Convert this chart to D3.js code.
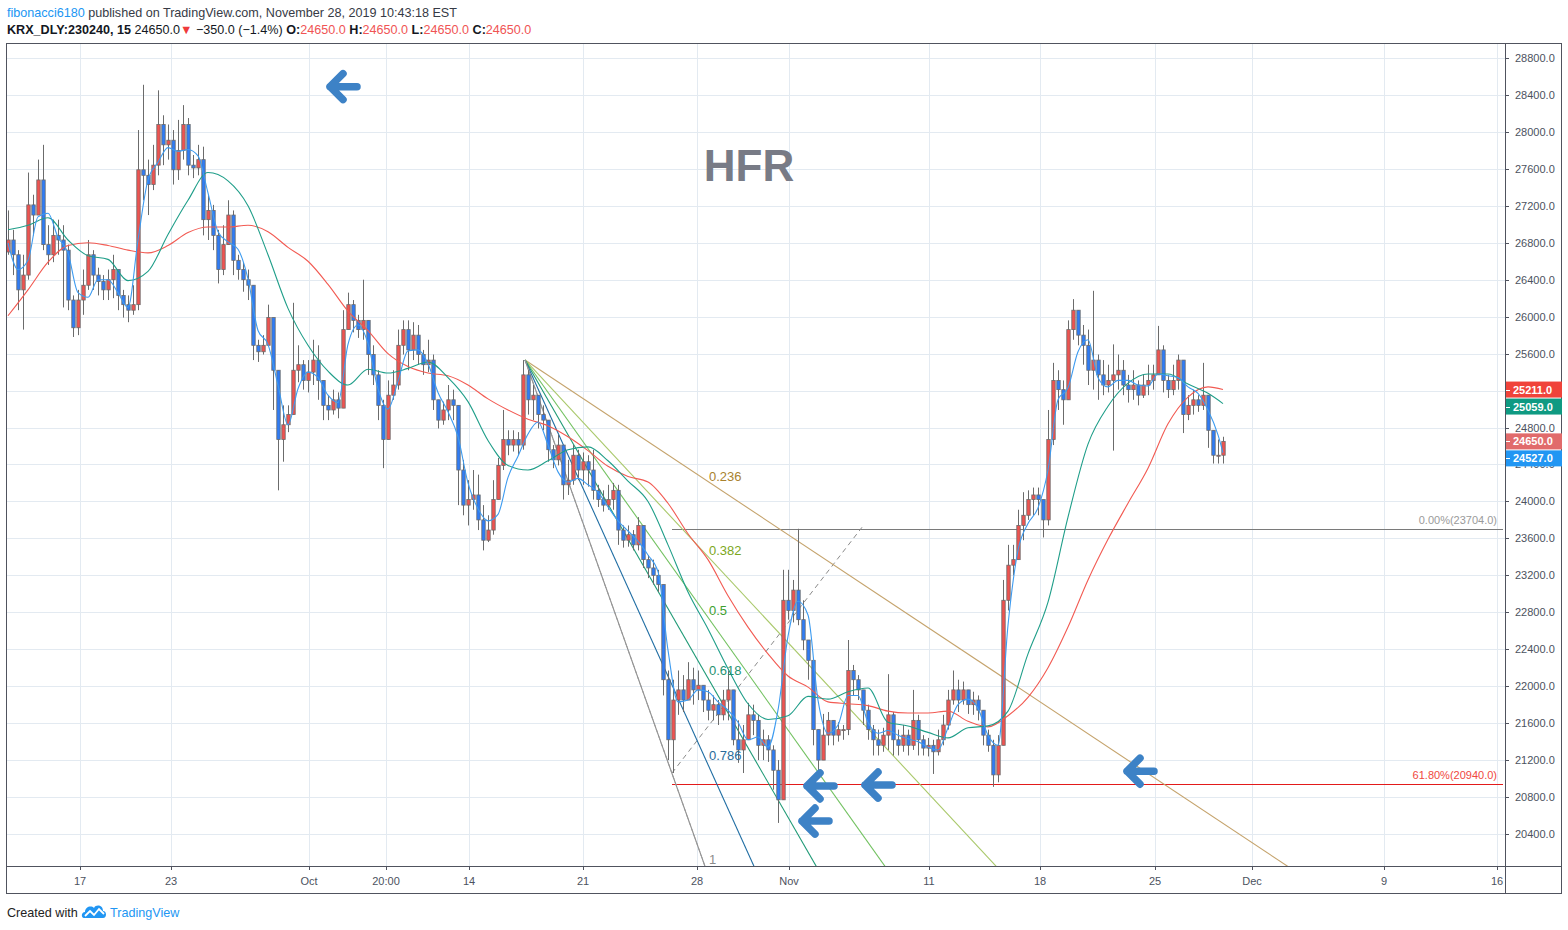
<!DOCTYPE html>
<html><head><meta charset="utf-8">
<script src="https://cdn.jsdelivr.net/npm/d3@7"></script>
<style>body{margin:0;background:#fff;} svg{display:block;font-family:"Liberation Sans",Arial,sans-serif;}</style>
</head><body><svg id="c" width="1568" height="930"></svg>
<script>
// ---------------- DATA ----------------
const firstOpen = 26700;
const closes = [
26830,26670,26290,26450,27210,27100,27480,26780,26670,26880,
26830,26720,26180,25880,26180,26340,26670,26450,26380,26290,
26400,26510,26230,26130,26070,26130,27590,27530,27430,27640,
28080,27860,27910,27590,27800,28080,27640,27610,27700,27050,
27150,26880,26510,26780,27100,26610,26510,26400,26340,25690,
25620,25690,25990,25420,24670,24830,24940,25420,25480,25310,
25400,25530,25310,25040,24990,25100,25010,25860,26130,25960,
25860,25960,25590,25370,25040,24670,25150,25260,25690,25860,
25640,25800,25590,25480,25530,25100,24880,24990,25100,25040,
24340,23960,24020,24070,23800,23580,23690,24020,24390,24670,
24610,24670,24610,25370,25100,25150,24940,24880,24560,24450,
24610,24180,24230,24500,24340,24430,24340,24120,24020,23960,
24020,24120,23690,23580,23640,23530,23740,23370,23280,23200,
23100,22070,21420,21850,21960,21850,22070,21960,22010,21850,
21740,21800,21690,21850,21960,21420,21310,21420,21690,21630,
21360,21420,21310,21090,20770,22930,22820,23040,22720,22500,
22280,21530,21200,21470,21630,21470,21530,21530,22170,22070,
21960,21740,21530,21420,21360,21470,21690,21420,21360,21470,
21360,21630,21420,21330,21360,21290,21420,21580,21850,21960,
21850,21960,21800,21850,21740,21470,21360,21040,21360,22930,
23310,23370,23740,23850,24020,24070,24020,23800,24670,25310,
25210,25100,25860,26070,25800,25690,25420,25530,25370,25260,
25310,25370,25420,25260,25210,25260,25150,25260,25310,25370,
25640,25310,25210,25310,25530,24940,25040,25100,25040,25150,
24770,24500,24500,24650];
const highs = [
27150,26940,26720,26670,27560,27320,27700,27860,26990,27050,
27050,26990,26780,26230,26290,26510,26830,26720,26530,26450,
26510,26670,26510,26290,26230,26340,28020,28510,27700,27860,
28450,28180,28080,28020,28130,28290,28150,27750,27860,27840,
27320,27210,26940,26990,27260,27150,26670,26590,26510,25960,
25750,25800,26130,25960,25150,25040,25040,26150,25690,25530,
25530,25750,25690,25310,25150,25210,25180,26070,26260,26180,
26020,26400,25960,25690,25420,25100,25310,25420,25860,25960,
25960,25940,25910,25640,25750,25590,25100,25080,25260,25210,
25040,24450,24230,24340,24290,23960,23850,24230,24470,24990,
24770,24770,24750,25530,25420,25260,25150,25040,24880,24610,
24720,24580,24450,24610,24560,24530,24500,24560,24180,24120,
24180,24200,24180,23740,23740,23690,23830,23690,23420,23370,
23260,23040,22170,22070,22170,22120,22260,22200,22170,22010,
21960,21900,21850,21960,22170,21900,21630,21580,21820,21800,
21690,21530,21470,21360,21200,23260,23260,23150,23704,22930,
22500,22100,21530,21700,21720,21630,21610,21580,22500,22230,
22120,21960,21800,21580,21530,21550,22130,21720,21530,21580,
21530,21960,21690,21470,21440,21420,21530,21690,21960,22170,
22070,22050,21960,21940,21900,21740,21530,21420,21470,23150,
23530,23530,23910,24100,24120,24150,24150,24020,24990,25500,
25420,25310,25960,26190,26020,25910,25860,26280,25590,25530,
25480,25700,25590,25530,25370,25420,25310,25370,25480,25480,
25900,25690,25370,25480,25590,25420,25150,25210,25150,25500,
25150,24770,24670,24700];
const lows = [
26670,26450,26070,25860,26400,26880,27100,26720,26560,26590,
26670,26100,26070,25780,25800,26020,26290,26290,26230,26180,
26180,26200,26070,25990,25940,26020,26070,27260,27100,27370,
27530,27640,27700,27430,27480,27700,27530,27500,27530,26880,
26830,26720,26360,26450,26830,26450,26400,26270,26180,25530,
25510,25590,25690,24990,24120,24430,24750,25040,25290,25210,
25180,25260,25100,24880,24880,24940,24900,25040,25860,25830,
25770,25750,25370,25260,24880,24360,24670,25100,25210,25590,
25420,25530,25480,25370,25400,24990,24790,24830,24880,24880,
23960,23850,23740,23910,23690,23470,23560,23640,24020,24340,
24500,24540,24500,24560,24940,24880,24790,24770,24430,24360,
24390,24020,24070,24180,24230,24180,24160,24020,23940,23890,
23910,23910,23530,23500,23510,23470,23470,23280,23170,23100,
23020,21900,21200,21060,21690,21720,21850,21800,21850,21720,
21630,21630,21580,21630,21630,21360,21170,21060,21420,21470,
21200,21200,21180,20880,20520,20770,22720,22690,22660,22390,
22070,21360,21020,21200,21360,21360,21400,21420,21470,21900,
21850,21580,21420,21250,21250,21290,21310,21250,21250,21290,
21250,21310,21250,21250,21240,21050,21250,21360,21530,21800,
21720,21800,21700,21690,21630,21360,21290,20910,20960,21850,
22820,23200,23370,23580,23800,23850,23850,23610,23740,24610,
24990,24830,25100,25750,25690,25480,25260,25210,25100,25150,
25180,24550,25210,25150,25070,25100,25040,25120,25150,25210,
25370,25180,25120,25150,25210,24740,24880,24940,24970,24990,
24580,24410,24410,24410];

// moving averages (read every 2 bars for the fast one, every 4 bars for the others; last value = last bar)
const maFastStep = 2;
const maFast = [
26800,26510,26610,27080,27120,26860,26690,26260,26210,26400,
26400,26260,26100,26830,27480,27670,27830,27790,27810,27740,
27340,26920,26810,26730,26410,25850,25700,25260,24830,25220,
25400,25340,25150,25070,25700,25910,25710,25220,25000,25300,
25630,25640,25490,25180,24970,24700,24200,23920,23790,23860,
24260,24490,24730,24860,24610,24320,24210,24250,24180,24100,
23940,23790,23680,23570,23420,23240,22390,21830,21850,21960,
21940,21830,21740,21610,21420,21450,21340,21740,22540,22920,
22770,21850,21490,21580,21900,21900,21610,21490,21520,21470,
21430,21400,21340,21310,21550,21800,21860,21760,21470,21360,
22660,23470,23760,23930,24340,25100,25230,25620,25750,25340,
25240,25310,25310,25260,25250,25380,25360,25340,25240,25170,
24990,24720,24527];
const maSlowStep = 4;
const maMid = [
26940,26990,27070,26830,26660,26620,26390,26490,26890,27260,
27560,27470,27200,26670,26090,25690,25410,25260,25430,25390,
25440,25510,25340,25080,24660,24390,24340,24440,24560,24590,
24440,24220,24000,23530,23020,22620,22190,21810,21640,21680,
21890,21860,21940,21980,21610,21570,21500,21440,21550,21570,
21730,22350,22910,23830,24620,25030,25280,25380,25380,25270,
25170,25059];
const maSlow = [
26010,26290,26590,26770,26800,26770,26720,26690,26770,26910,
26970,26970,26990,26920,26750,26600,26350,26060,25850,25600,
25460,25390,25360,25260,25110,24990,24890,24820,24700,24550,
24380,24270,24210,23980,23650,23370,22980,22640,22350,22110,
21990,21830,21810,21790,21730,21710,21710,21730,21620,21560,
21680,21880,22200,22640,23150,23590,23980,24360,24840,25130,
25240,25211];

const priceTicks = [20400,20800,21200,21600,22000,22400,22800,23200,23600,24000,24400,24800,25200,25600,26000,26400,26800,27200,27600,28000,28400,28800];
const timeTickLabels = ["17","23","Oct","20:00","14","21","28","Nov","11","18","25","Dec","9","16"];
const timeTickBars   = [14.4,32.6,60.2,75.6,92.2,115,137.8,156.2,184.2,206.4,229.4,248.8,275.2,297.8];

// Fibonacci fan (anchor bar/price) and levels
const fanStart = {bar:103.4, price:25531};
const fanEnd   = {bar:139.4, price:20050};
const fanLevels = [0.236,0.382,0.5,0.618,0.786,1];
const fanLineColors = ["#c5a36c","#a9c86a","#72c160","#1f9a76","#1f6da3","#8c8c8c"];
const fanTextColors = ["#a9822e","#7ca71c","#3e9f2f","#1f9270","#2a6b9a","#8c8c8c"];

// Fibonacci retracement
const retrStartBar = 132.8, retrEndBar = 299;
const retrLevels = [23704, 20940];
const retrLabels = ["0.00%(23704.0)", "61.80%(20940.0)"];
const retrColors = ["#7a7a7a", "#e31a1a"];
const retrTextColors = ["#9a9a9a", "#f0483e"];
const retrTrend = [{bar:132.8, price:21060},{bar:170.8, price:23720}];

// arrows (bar, price of arrow tip)
const arrowBars   = [64.2, 159.6, 171.2, 158.6, 223.6];
const arrowPrices = [28490, 20920, 20930, 20540, 21080];

// last values
const lastLabels = [
  {v:25211, c:"#f0433a"},
  {v:25059, c:"#0f9a82"},
  {v:24650, c:"#e16b6b"},
  {v:24527, c:"#2196f3"}
];

// ---------------- DRAW ----------------
const svg = d3.select("#c");
const PL=7, PR=1505, PT=44, PB=866;
const x = d3.scaleLinear().domain([0,299.4]).range([8,1505]);
const y = d3.scaleLinear().domain([20400,28800]).range([834,58]);

svg.append("rect").attr("width",1568).attr("height",930).attr("fill","#fff");

svg.append("defs").append("clipPath").attr("id","plotclip")
  .append("rect").attr("x",PL).attr("y",PT).attr("width",PR-PL).attr("height",PB-PT);

// grid
const grid = svg.append("g");
grid.selectAll(".hg").data(priceTicks).join("line")
  .attr("x1",PL).attr("x2",PR).attr("y1",d=>Math.round(y(d))+0.5).attr("y2",d=>Math.round(y(d))+0.5)
  .attr("stroke","#e3eaf1").attr("stroke-width",1);
grid.selectAll(".vg").data(timeTickBars).join("line")
  .attr("y1",PT).attr("y2",PB).attr("x1",d=>Math.round(x(d))+0.5).attr("x2",d=>Math.round(x(d))+0.5)
  .attr("stroke","#e3eaf1").attr("stroke-width",1);

const plot = svg.append("g").attr("clip-path","url(#plotclip)");

// retracement lines
retrLevels.forEach((lv,k)=>{
  plot.append("line").attr("x1",x(retrStartBar)).attr("x2",x(retrEndBar))
    .attr("y1",Math.round(y(lv))+0.5).attr("y2",Math.round(y(lv))+0.5)
    .attr("stroke",retrColors[k]).attr("stroke-width",1);
  plot.append("text").attr("x",1497).attr("y",y(lv)-5).attr("text-anchor","end")
    .attr("font-size",11).attr("fill",retrTextColors[k]).text(retrLabels[k]);
});
plot.append("line").attr("x1",x(retrTrend[0].bar)).attr("y1",y(retrTrend[0].price))
  .attr("x2",x(retrTrend[1].bar)).attr("y2",y(retrTrend[1].price))
  .attr("stroke","#8a8a8a").attr("stroke-width",1).attr("stroke-dasharray","5,4");

// fan
const fanRange = fanStart.price - fanEnd.price;
fanLevels.forEach((lv,k)=>{
  const pEnd = fanStart.price - lv*fanRange;
  const slope = (pEnd - fanStart.price)/(fanEnd.bar - fanStart.bar);
  const farBar = 420;
  const farP = fanStart.price + slope*(farBar - fanStart.bar);
  plot.append("line").attr("x1",x(fanStart.bar)).attr("y1",y(fanStart.price))
    .attr("x2",x(farBar)).attr("y2",y(farP))
    .attr("stroke",fanLineColors[k]).attr("stroke-width",1.1);
});
plot.append("line").attr("x1",x(fanStart.bar)).attr("y1",y(fanStart.price))
  .attr("x2",x(fanEnd.bar)).attr("y2",y(fanEnd.price))
  .attr("stroke","#9a9a9a").attr("stroke-width",1).attr("stroke-dasharray","4,3");

// candles
const candles = closes.map((c,i)=>{
  const o = i===0 ? firstOpen : closes[i-1];
  return {i, o, c, h:Math.max(highs[i],o,c), l:Math.min(lows[i],o,c)};
});
const cg = plot.append("g");
cg.selectAll(".w").data(candles).join("line")
  .attr("x1",d=>Math.round(x(d.i))+0.5).attr("x2",d=>Math.round(x(d.i))+0.5)
  .attr("y1",d=>y(d.h)).attr("y2",d=>y(d.l))
  .attr("stroke","#6b6b6b").attr("stroke-width",1);
cg.selectAll(".b").data(candles).join("rect")
  .attr("x",d=>Math.round(x(d.i))-1.2).attr("width",3.4)
  .attr("y",d=>y(Math.max(d.o,d.c)))
  .attr("height",d=>Math.max(1,Math.abs(y(d.o)-y(d.c))))
  .attr("fill",d=>d.c>=d.o?"#ef5350":"#2f7cf6")
  .attr("stroke","#6b6b6b").attr("stroke-width",0.8);

// moving averages
const lastBar = closes.length-1;
function maPts(arr, step){ return arr.map((v,k)=>({b:Math.min(k*step,lastBar), v})); }
const lineGen = d3.line().x(d=>x(d.b)).y(d=>y(d.v)).curve(d3.curveMonotoneX);
plot.append("path").datum(maPts(maSlow,maSlowStep)).attr("d",lineGen).attr("fill","none").attr("stroke","#f25a52").attr("stroke-width",1.1);
plot.append("path").datum(maPts(maMid,maSlowStep)).attr("d",lineGen).attr("fill","none").attr("stroke","#1f9e89").attr("stroke-width",1.1);
plot.append("path").datum(maPts(maFast,maFastStep)).attr("d",lineGen).attr("fill","none").attr("stroke","#3d9bf0").attr("stroke-width",1.1);

// fan labels
fanLevels.forEach((lv,k)=>{
  const pEnd = fanStart.price - lv*fanRange;
  let ty = y(pEnd) - 2;
  ty = Math.min(ty, PB-6);
  plot.append("text").attr("x",x(fanEnd.bar)+4).attr("y",ty+4)
    .attr("font-size",13).attr("fill",fanTextColors[k]).text(String(lv));
});

// HFR
plot.append("text").attr("x",749).attr("y",181).attr("text-anchor","middle")
  .attr("font-size",44).attr("font-weight","bold").attr("fill","#787b86").text("HFR");

// arrows
arrowBars.forEach((b,k)=>{
  const tx = x(b), ty = y(arrowPrices[k]);
  svg.append("path").attr("transform",`translate(${tx},${ty})`)
    .attr("d","M14,-13 L1,0 L14,13 M1,0 L28,0")
    .attr("fill","none").attr("stroke","#3d82c6").attr("stroke-width",7.5)
    .attr("stroke-linecap","round").attr("stroke-linejoin","round");
});

// frame & axes
const fr = svg.append("g").attr("stroke","#50535e").attr("stroke-width",1).attr("fill","none");
fr.append("rect").attr("x",6.5).attr("y",43.5).attr("width",1555).attr("height",850);
fr.append("line").attr("x1",PR+0.5).attr("x2",PR+0.5).attr("y1",43.5).attr("y2",893.5);
fr.append("line").attr("x1",6.5).attr("x2",1561.5).attr("y1",PB+0.5).attr("y2",PB+0.5);

// price axis
const pa = svg.append("g");
pa.selectAll("line").data(priceTicks).join("line")
  .attr("x1",PR).attr("x2",PR+4).attr("y1",d=>Math.round(y(d))+0.5).attr("y2",d=>Math.round(y(d))+0.5)
  .attr("stroke","#50535e");
pa.selectAll("text").data(priceTicks).join("text")
  .attr("x",1515).attr("y",d=>y(d)+4).attr("font-size",11).attr("fill","#4c525e")
  .text(d=>d3.format(".1f")(d));

// time axis
const ta = svg.append("g");
ta.selectAll("line").data(timeTickBars).join("line")
  .attr("x1",d=>Math.round(x(d))+0.5).attr("x2",d=>Math.round(x(d))+0.5).attr("y1",PB).attr("y2",PB+4)
  .attr("stroke","#50535e");
ta.selectAll("text").data(timeTickBars).join("text")
  .attr("x",d=>x(d)).attr("y",885).attr("text-anchor","middle").attr("font-size",11).attr("fill","#4c525e")
  .text((d,k)=>timeTickLabels[k]);

// last value labels (avoid overlaps)
const ll = lastLabels.map(d=>({...d, yy:y(d.v)})).sort((a,b)=>a.yy-b.yy);
for(let k=1;k<ll.length;k++){ if(ll[k].yy < ll[k-1].yy+17) ll[k].yy = ll[k-1].yy+17; }
ll.forEach(d=>{
  svg.append("rect").attr("x",PR+1).attr("y",d.yy-8).attr("width",56).attr("height",16).attr("fill",d.c);
  svg.append("line").attr("x1",PR+1).attr("x2",PR+5).attr("y1",Math.round(d.yy)+0.5).attr("y2",Math.round(d.yy)+0.5).attr("stroke","#fff");
  svg.append("text").attr("x",1513).attr("y",d.yy+4).attr("font-size",11).attr("font-weight","bold")
    .attr("fill","#fff").text(d3.format(".1f")(d.v));
});

// header
const h1 = svg.append("text").attr("x",7).attr("y",17).attr("font-size",12.6).attr("fill","#363a45");
h1.append("tspan").attr("fill","#2196f3").text("fibonacci6180");
h1.append("tspan").text(" published on TradingView.com, November 28, 2019 10:43:18 EST");
const h2 = svg.append("text").attr("x",7).attr("y",34).attr("font-size",12.6).attr("fill","#131722");
h2.append("tspan").attr("font-weight","bold").text("KRX_DLY:230240, 15");
h2.append("tspan").text("  24650.0");
h2.append("tspan").attr("fill","#ef3b3b").text("▼");
h2.append("tspan").text(" −350.0 (−1.4%) ");
[["O:","24650.0"],["H:","24650.0"],["L:","24650.0"],["C:","24650.0"]].forEach(([a,b])=>{
  h2.append("tspan").attr("font-weight","bold").text(a);
  h2.append("tspan").attr("fill","#f05454").text(b+" ");
});

// footer
svg.append("text").attr("x",7).attr("y",917).attr("font-size",12.6).attr("fill","#222").text("Created with");
const logo = svg.append("g").attr("transform","translate(82,903)");
logo.append("path").attr("d","M2,15 C-1,15 -1,9 3,9 C3,4 9,2 12,5 C14,1 21,2 21,8 C25,8 25,15 21,15 Z").attr("fill","#2196f3");
logo.append("polyline").attr("points","3,13 8,8 12,12 17,6 22,11").attr("fill","none").attr("stroke","#fff").attr("stroke-width",1.8);
svg.append("text").attr("x",110).attr("y",917).attr("font-size",12.6).attr("fill","#2196f3").text("TradingView");
</script></body></html>
